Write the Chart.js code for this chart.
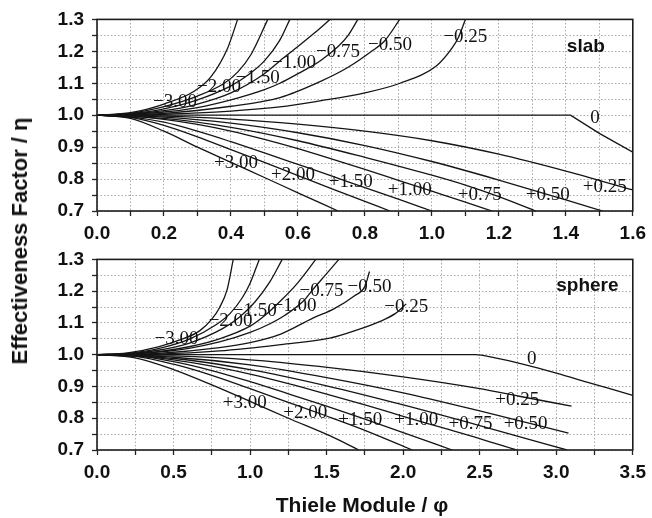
<!DOCTYPE html>
<html>
<head>
<meta charset="utf-8">
<title>Effectiveness factor vs Thiele modulus</title>
<script src="https://cdn.jsdelivr.net/npm/chart.js@4/dist/chart.umd.min.js"></script>
<style>
  html, body { margin: 0; padding: 0; background: #fff; }
  #wrap { position: relative; width: 652px; height: 518px; overflow: hidden; }
  canvas { position: absolute; left: 0; }
  #slabChart { top: 0; }
  #sphereChart { top: 240px; }
  .axis-title { position: absolute; font-family: "Liberation Sans", Arial, sans-serif; font-weight: bold; color: #111; white-space: nowrap; }
  #xTitle { left: 362px; top: 505px; font-size: 21px; transform: translate(-50%, -50%); }
  #yTitle { left: 20px; top: 241px; font-size: 22px; transform: translate(-50%, -50%) rotate(-90deg); }
</style>
</head>
<body>
<div id="wrap">
  <canvas id="slabChart" width="652" height="240"></canvas>
  <canvas id="sphereChart" width="652" height="278"></canvas>
  <div class="axis-title" id="xTitle">Thiele Module / φ</div>
  <div class="axis-title" id="yTitle">Effectiveness Factor / η</div>
</div>
<script>
// ---------- slab geometry: effectiveness factor curves per reaction order ----------
const slabPhiM300 = [0, 0.1, 0.2, 0.29, 0.34, 0.39, 0.42];
const slabEtaM300 = [1, 1.008, 1.035, 1.075, 1.12, 1.21, 1.30];
const slabPhiM200 = [0, 0.1, 0.2, 0.3, 0.38, 0.42, 0.46, 0.51];
const slabEtaM200 = [1, 1.006, 1.027, 1.06, 1.10, 1.135, 1.19, 1.30];
const slabPhiM150 = [0, 0.1, 0.2, 0.3, 0.4, 0.45, 0.5, 0.546, 0.576];
const slabEtaM150 = [1, 1.005, 1.02, 1.048, 1.092, 1.125, 1.17, 1.235, 1.30];
const slabPhiM100 = [0, 0.1, 0.2, 0.3, 0.4, 0.5, 0.546, 0.6, 0.65, 0.696];
const slabEtaM100 = [1, 1.004, 1.014, 1.035, 1.07, 1.13, 1.17, 1.215, 1.258, 1.30];
const slabPhiM075 = [0, 0.2, 0.3, 0.4, 0.5, 0.546, 0.6, 0.666, 0.72, 0.75, 0.779];
const slabEtaM075 = [1, 1.01, 1.024, 1.048, 1.08, 1.10, 1.13, 1.17, 1.215, 1.25, 1.30];
const slabPhiM050 = [0, 0.2, 0.4, 0.546, 0.666, 0.75, 0.82, 0.86, 0.904];
const slabEtaM050 = [1, 1.006, 1.028, 1.055, 1.105, 1.15, 1.20, 1.234, 1.30];
const slabPhiM025 = [0, 0.2, 0.4, 0.546, 0.666, 0.8, 0.905, 1.015, 1.06, 1.08, 1.10];
const slabEtaM025 = [1, 1.003, 1.013, 1.026, 1.045, 1.07, 1.10, 1.156, 1.21, 1.245, 1.30];
const slabPhi0    = [0, 1.414, 1.5, 1.6];
const slabEta0    = [1, 1, 0.943, 0.884];
const slabPhiP025 = [0, 0.2, 0.4, 0.6, 0.8, 1.0, 1.2, 1.4, 1.6];
const slabEtaP025 = [1, 0.997, 0.988, 0.972, 0.95, 0.92, 0.878, 0.825, 0.766];
const slabPhiP050 = [0, 0.2, 0.4, 0.6, 0.8, 1.0, 1.2, 1.4, 1.51];
const slabEtaP050 = [1, 0.994, 0.975, 0.945, 0.905, 0.855, 0.797, 0.735, 0.70];
const slabPhiP075 = [0, 0.2, 0.4, 0.6, 0.8, 1.0, 1.1, 1.2, 1.31];
const slabEtaP075 = [1, 0.99, 0.962, 0.92, 0.868, 0.812, 0.781, 0.745, 0.70];
const slabPhiP100 = [0, 0.1, 0.2, 0.3, 0.4, 0.5, 0.6, 0.7, 0.8, 0.9, 1.0, 1.1, 1.18];
const slabEtaP100 = [1, 0.997, 0.987, 0.971, 0.95, 0.924, 0.895, 0.863, 0.83, 0.796, 0.762, 0.728, 0.70];
const slabPhiP150 = [0, 0.1, 0.2, 0.3, 0.4, 0.5, 0.6, 0.7, 0.8, 0.9, 1.0];
const slabEtaP150 = [1, 0.995, 0.978, 0.95, 0.917, 0.882, 0.846, 0.81, 0.773, 0.737, 0.70];
const slabPhiP200 = [0, 0.1, 0.2, 0.3, 0.4, 0.5, 0.6, 0.7, 0.8, 0.875];
const slabEtaP200 = [1, 0.993, 0.968, 0.932, 0.892, 0.852, 0.811, 0.77, 0.73, 0.70];
const slabPhiP300 = [0, 0.1, 0.2, 0.3, 0.4, 0.5, 0.6, 0.72];
const slabEtaP300 = [1, 0.99, 0.95, 0.9, 0.852, 0.805, 0.757, 0.70];

// ---------- sphere geometry ----------
const spherePhiM300 = [0, 0.2, 0.4, 0.55, 0.67, 0.75, 0.8, 0.85, 0.89];
const sphereEtaM300 = [1, 1.006, 1.025, 1.048, 1.075, 1.112, 1.148, 1.205, 1.30];
const spherePhiM200 = [0, 0.2, 0.4, 0.6, 0.78, 0.87, 0.95, 1.0, 1.06];
const sphereEtaM200 = [1, 1.004, 1.019, 1.048, 1.095, 1.13, 1.18, 1.225, 1.30];
const spherePhiM150 = [0, 0.2, 0.4, 0.6, 0.82, 0.93, 1.03, 1.13, 1.21];
const sphereEtaM150 = [1, 1.003, 1.014, 1.036, 1.082, 1.118, 1.165, 1.23, 1.30];
const spherePhiM100 = [0, 0.2, 0.4, 0.6, 0.8, 1.0, 1.1, 1.2, 1.3, 1.43];
const sphereEtaM100 = [1, 1.002, 1.01, 1.025, 1.05, 1.09, 1.125, 1.17, 1.22, 1.30];
const spherePhiM075 = [0, 0.2, 0.4, 0.6, 0.8, 1.0, 1.12, 1.23, 1.35, 1.41, 1.5, 1.58];
const sphereEtaM075 = [1, 1.001, 1.008, 1.02, 1.04, 1.07, 1.095, 1.125, 1.17, 1.205, 1.255, 1.30];
const spherePhiM050 = [0, 0.4, 0.8, 1.0, 1.2, 1.41, 1.55, 1.68, 1.75, 1.78];
const sphereEtaM050 = [1, 1.004, 1.022, 1.038, 1.065, 1.115, 1.145, 1.185, 1.215, 1.262];
const spherePhiM025 = [0, 0.4, 0.8, 1.2, 1.52, 1.7, 1.85, 1.95, 2.02];
const sphereEtaM025 = [1, 1.002, 1.012, 1.032, 1.052, 1.078, 1.105, 1.13, 1.16];
const spherePhi0    = [0, 2.47, 2.6, 2.8, 3.0, 3.2, 3.5];
const sphereEta0    = [1, 1, 0.99, 0.968, 0.942, 0.914, 0.872];
const spherePhiP025 = [0, 0.5, 1.0, 1.45, 2.0, 2.5, 2.75, 3.1];
const sphereEtaP025 = [1, 0.996, 0.984, 0.963, 0.93, 0.893, 0.87, 0.838];
const spherePhiP050 = [0, 0.5, 1.0, 1.5, 2.0, 2.5, 3.08];
const sphereEtaP050 = [1, 0.992, 0.968, 0.928, 0.88, 0.823, 0.753];
const spherePhiP075 = [0, 0.5, 1.0, 1.5, 2.0, 2.5, 3.07];
const sphereEtaP075 = [1, 0.988, 0.953, 0.902, 0.842, 0.777, 0.70];
const spherePhiP100 = [0, 0.25, 0.5, 0.75, 1.0, 1.25, 1.5, 1.75, 2.0, 2.25, 2.5, 2.74];
const sphereEtaP100 = [1, 0.996, 0.984, 0.964, 0.939, 0.909, 0.876, 0.842, 0.806, 0.771, 0.736, 0.70];
const spherePhiP150 = [0, 0.25, 0.5, 0.75, 1.0, 1.25, 1.5, 1.75, 2.0, 2.32];
const sphereEtaP150 = [1, 0.997, 0.978, 0.95, 0.915, 0.877, 0.838, 0.797, 0.755, 0.70];
const spherePhiP200 = [0, 0.25, 0.5, 0.75, 1.0, 1.25, 1.5, 1.75, 2.06];
const sphereEtaP200 = [1, 0.995, 0.97, 0.935, 0.893, 0.85, 0.807, 0.762, 0.70];
const spherePhiP300 = [0, 0.25, 0.5, 0.75, 1.0, 1.25, 1.52, 1.71];
const sphereEtaP300 = [1, 0.99, 0.953, 0.905, 0.853, 0.80, 0.745, 0.70];

// ---------- curve annotations (reaction order) ----------
const orderLabels = ['−3.00', '−2.00', '−1.50', '−1.00', '−0.75', '−0.50', '−0.25', '0',
                     '+0.25', '+0.50', '+0.75', '+1.00', '+1.50', '+2.00', '+3.00'];
const slabLabelPhi = [0.233, 0.364, 0.48, 0.588, 0.72, 0.875, 1.10, 1.487, 1.516, 1.346, 1.143, 0.934, 0.758, 0.585, 0.415];
const slabLabelEta = [1.041, 1.0875, 1.116, 1.162, 1.197, 1.219, 1.244, 0.99, 0.775, 0.75, 0.75, 0.766, 0.79, 0.8125, 0.85];
const sphereLabelPhi = [0.52, 0.873, 1.03, 1.29, 1.467, 1.78, 2.02, 2.84, 2.745, 2.80, 2.44, 2.086, 1.72, 1.36, 0.965];
const sphereLabelEta = [1.05, 1.106, 1.137, 1.153, 1.2, 1.2125, 1.15, 0.9875, 0.856, 0.781, 0.781, 0.794, 0.794, 0.816, 0.847];

// ---------- axis ticks ----------
const slabXTicks  = [0, 0.1, 0.2, 0.3, 0.4, 0.5, 0.6, 0.7, 0.8, 0.9, 1.0, 1.1, 1.2, 1.3, 1.4, 1.5, 1.6];
const slabXLabels = ['0.0', '', '0.2', '', '0.4', '', '0.6', '', '0.8', '', '1.0', '', '1.2', '', '1.4', '', '1.6'];
const sphereXTicks  = [0, 0.25, 0.5, 0.75, 1.0, 1.25, 1.5, 1.75, 2.0, 2.25, 2.5, 2.75, 3.0, 3.25, 3.5];
const sphereXLabels = ['0.0', '', '0.5', '', '1.0', '', '1.5', '', '2.0', '', '2.5', '', '3.0', '', '3.5'];
const yTicks  = [0.7, 0.75, 0.8, 0.85, 0.9, 0.95, 1.0, 1.05, 1.1, 1.15, 1.2, 1.25, 1.3];
const yLabels = ['0.7', '', '0.8', '', '0.9', '', '1.0', '', '1.1', '', '1.2', '', '1.3'];

const slabSeries = [
  [slabPhiM300, slabEtaM300], [slabPhiM200, slabEtaM200], [slabPhiM150, slabEtaM150],
  [slabPhiM100, slabEtaM100], [slabPhiM075, slabEtaM075], [slabPhiM050, slabEtaM050],
  [slabPhiM025, slabEtaM025], [slabPhi0, slabEta0], [slabPhiP025, slabEtaP025],
  [slabPhiP050, slabEtaP050], [slabPhiP075, slabEtaP075], [slabPhiP100, slabEtaP100],
  [slabPhiP150, slabEtaP150], [slabPhiP200, slabEtaP200], [slabPhiP300, slabEtaP300]
];
const sphereSeries = [
  [spherePhiM300, sphereEtaM300], [spherePhiM200, sphereEtaM200], [spherePhiM150, sphereEtaM150],
  [spherePhiM100, sphereEtaM100], [spherePhiM075, sphereEtaM075], [spherePhiM050, sphereEtaM050],
  [spherePhiM025, sphereEtaM025], [spherePhi0, sphereEta0], [spherePhiP025, sphereEtaP025],
  [spherePhiP050, sphereEtaP050], [spherePhiP075, sphereEtaP075], [spherePhiP100, sphereEtaP100],
  [spherePhiP150, sphereEtaP150], [spherePhiP200, sphereEtaP200], [spherePhiP300, sphereEtaP300]
];

const SANS = '"Liberation Sans", Arial, sans-serif';
const SERIF = '"Liberation Serif", "Times New Roman", serif';

// Solid frame around the plotting area
const framePlugin = {
  id: 'frame',
  afterDatasetsDraw(chart) {
    const { ctx, chartArea: a } = chart;
    ctx.save();
    ctx.strokeStyle = '#1c1c1c';
    ctx.lineWidth = 1.6;
    ctx.strokeRect(a.left, a.top, a.right - a.left, a.bottom - a.top);
    ctx.restore();
  }
};

// Order labels next to the curves plus the geometry name
const curveTextPlugin = {
  id: 'curveText',
  afterDatasetsDraw(chart, args, opts) {
    const { ctx } = chart;
    const xs = chart.scales.x, ys = chart.scales.y;
    ctx.save();
    ctx.fillStyle = '#111';
    ctx.font = '19px ' + SERIF;
    ctx.textAlign = 'center';
    ctx.textBaseline = 'middle';
    opts.text.forEach((t, i) => {
      ctx.fillText(t, xs.getPixelForValue(opts.phi[i]), ys.getPixelForValue(opts.eta[i]));
    });
    ctx.font = 'bold 19px ' + SANS;
    ctx.textAlign = 'left';
    ctx.textBaseline = 'alphabetic';
    ctx.fillText(opts.panel, xs.getPixelForValue(opts.panelPhi), ys.getPixelForValue(opts.panelEta));
    ctx.restore();
  }
};

function buildDatasets(series, kinkIndex) {
  return series.map(([phi, eta], i) => ({
    data: phi.map((p, k) => ({ x: p, y: eta[k] })),
    borderColor: '#151515',
    borderWidth: 1.3,
    pointRadius: 0,
    showLine: true,
    fill: false,
    cubicInterpolationMode: i === kinkIndex ? 'default' : 'monotone',
    tension: i === kinkIndex ? 0 : 0.4
  }));
}

function axisCommon() {
  return {
    grid: {
      color: '#a8a8a8',
      lineWidth: 1,
      drawTicks: true,
      tickLength: 5,
      tickColor: '#222',
      tickWidth: 1.3,
      tickBorderDash: []
    },
    border: { display: false, dash: [1.5, 2] }
  };
}

function makeChart(canvasId, series, kinkIndex, xMax, xTicks, xLabels, xHeight, padTop, labelOpts) {
  const xAxis = Object.assign(axisCommon(), {
    type: 'linear',
    min: 0,
    max: xMax,
    afterBuildTicks: s => { s.ticks = xTicks.map(v => ({ value: v })); },
    afterFit: s => { s.height = xHeight; },
    ticks: {
      autoSkip: false,
      maxRotation: 0,
      padding: 6,
      color: '#111',
      font: { family: SANS, size: 19, weight: 'bold' },
      callback: (v, i) => xLabels[i]
    }
  });
  const yAxis = Object.assign(axisCommon(), {
    type: 'linear',
    min: 0.7,
    max: 1.3,
    afterBuildTicks: s => { s.ticks = yTicks.map(v => ({ value: v })); },
    afterFit: s => { s.width = 97; },
    ticks: {
      autoSkip: false,
      padding: 8,
      color: '#111',
      font: { family: SANS, size: 19, weight: 'bold' },
      callback: (v, i) => yLabels[i]
    }
  });
  return new Chart(document.getElementById(canvasId), {
    type: 'scatter',
    data: { datasets: buildDatasets(series, kinkIndex) },
    options: {
      responsive: false,
      animation: false,
      devicePixelRatio: 1,
      layout: { padding: { top: padTop, right: 18, left: 0, bottom: 0 } },
      scales: { x: xAxis, y: yAxis },
      plugins: {
        legend: { display: false },
        tooltip: { enabled: false },
        curveText: labelOpts
      }
    },
    plugins: [framePlugin, curveTextPlugin]
  });
}

makeChart('slabChart', slabSeries, 7, 1.6, slabXTicks, slabXLabels, 29, 19, {
  text: orderLabels, phi: slabLabelPhi, eta: slabLabelEta,
  panel: 'slab', panelPhi: 1.403, panelEta: 1.197
});

makeChart('sphereChart', sphereSeries, -1, 3.5, sphereXTicks, sphereXLabels, 68, 18, {
  text: orderLabels, phi: sphereLabelPhi, eta: sphereLabelEta,
  panel: 'sphere', panelPhi: 3.0, panelEta: 1.20
});
</script>
</body>
</html>
